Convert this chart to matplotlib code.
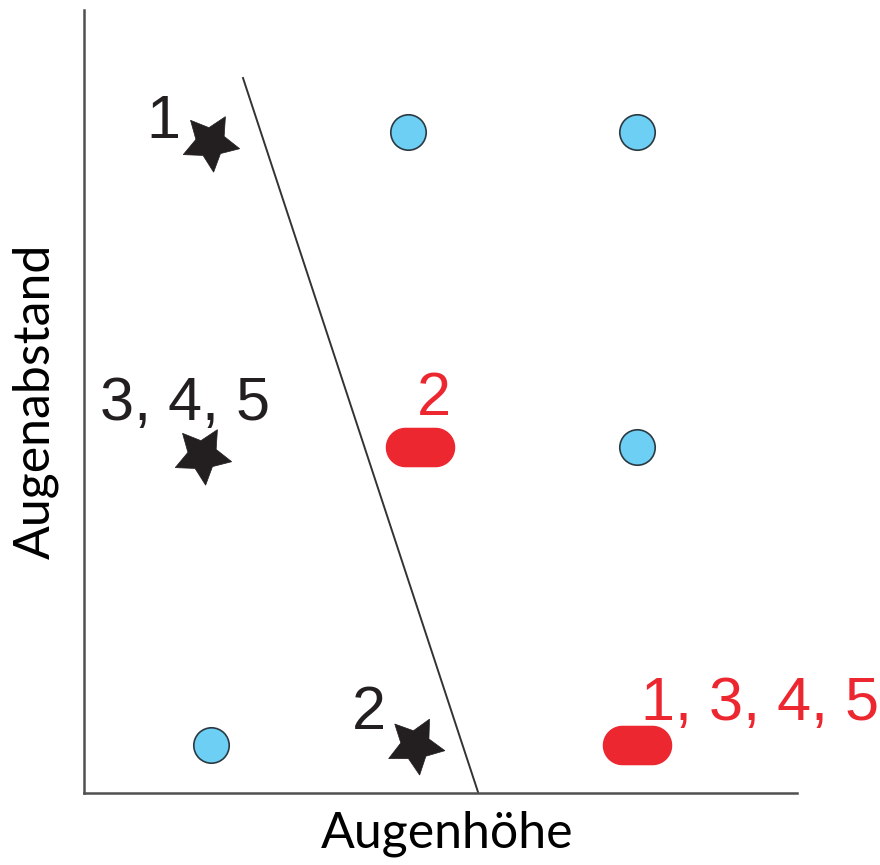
import numpy as np
import matplotlib
matplotlib.use('Agg')
import matplotlib.pyplot as plt
from matplotlib.path import Path

# data, in grid units (x = Augenhöhe, y = Augenabstand)
star_x = [1.26, 1.18, 3.31]
star_y = [6.51, 3.38, 0.48]
star_rot = [186, 186, 188]   # stars point downwards, slightly tilted
star_labels = ['1', '3, 4, 5', '2']
star_label_x = [0.79, 1.01, 2.85]
star_label_y = [6.55, 3.73, 0.64]

blue_x = [3.24, 5.53, 5.53, 1.27]
blue_y = [6.61, 6.61, 3.46, 0.48]

red_x = [3.36, 5.53]
red_y = [3.46, 0.48]
red_labels = ['2', '1, 3, 4, 5']
red_label_x = [3.50, 6.76]
red_label_y = [3.78, 0.73]

line_x = [1.59, 3.94]
line_y = [7.15, 0.01]

# red rounded bar marker (stadium shape)
r = 0.28
t = np.linspace(-np.pi / 2, np.pi / 2, 30)
right = np.column_stack([0.5 - r + r * np.cos(t), r * np.sin(t)])
left = np.column_stack([-(0.5 - r) - r * np.cos(t), -r * np.sin(t)])
verts = np.vstack([right, left, right[:1]])
stadium = Path(verts, closed=True)

fig = plt.figure(figsize=(8.8, 8.65), dpi=100)
ax = fig.add_axes([84 / 880, 72 / 865, 713 / 880, 783 / 865])
ax.set_xlim(0, 7.13)
ax.set_ylim(0, 7.83)

ax.plot(line_x, line_y, color='#333333', lw=1.4, zorder=2)

for x, y, rot in zip(star_x, star_y, star_rot):
    ax.plot(x, y, marker=(5, 1, rot), ms=43, color='#231F20', mec='#231F20',
            mew=0.5, ls='none', zorder=3)

ax.plot(blue_x, blue_y, 'o', ms=25.5, mfc='#6DCFF4', mec='#2B3A42', mew=1.2,
        zorder=3)
ax.plot(red_x, red_y, marker=stadium, ms=49, color='#EC2730', ls='none',
        zorder=3)

for x, y, s in zip(star_label_x, star_label_y, star_labels):
    ax.text(x, y, s, fontsize=44, family='Liberation Sans', color='#231F20',
            ha='center', va='baseline')
for x, y, s in zip(red_label_x, red_label_y, red_labels):
    ax.text(x, y, s, fontsize=44, family='Liberation Sans', color='#EC2730',
            ha='center', va='baseline')

ax.text(0.509, -0.070, 'Augenhöhe', transform=ax.transAxes, fontsize=36,
        family='Lato', ha='center', va='baseline')
ax.text(-0.048, 0.5, 'Augenabstand', transform=ax.transAxes, fontsize=36,
        family='Lato', ha='center', va='baseline', rotation=90,
        rotation_mode='anchor')

for side in ['top', 'right']:
    ax.spines[side].set_visible(False)
for side in ['left', 'bottom']:
    ax.spines[side].set_color('#505050')
    ax.spines[side].set_linewidth(1.8)
ax.set_xticks([])
ax.set_yticks([])

fig.savefig('out.png', dpi=100)
